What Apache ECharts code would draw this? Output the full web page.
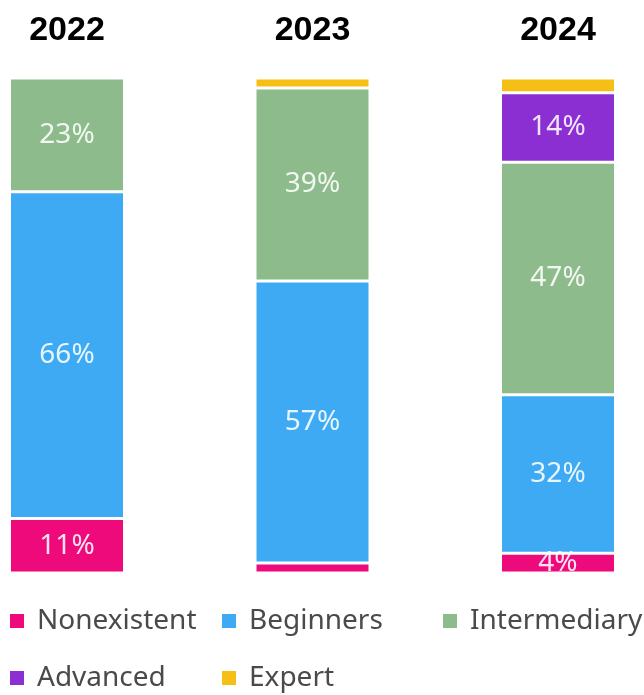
<!DOCTYPE html>
<html>
<head>
<meta charset="utf-8">
<style>html,body{margin:0;padding:0;background:#fff;}#c{width:644px;height:695px;}</style>
<script src="https://cdn.jsdelivr.net/npm/echarts@6/dist/echarts.min.js"></script>
</head>
<body>
<div id="c"></div>
<script>
const years = ['2022', '2023', '2024'];
const nonexistent = [11, 2, 4];
const beginners = [66, 57, 32];
const intermediary = [23, 39, 47];
const advanced = [0, 0, 14];
const expert = [0, 2, 3];

const seriesNames = ['Nonexistent', 'Beginners', 'Intermediary', 'Advanced', 'Expert'];
const seriesData = [nonexistent, beginners, intermediary, advanced, expert];
const colors = ['#EE0A7B', '#3DAAF3', '#8DBB8B', '#8B2FD3', '#F6BF15'];

const chart = echarts.init(document.getElementById('c'));
const legendText = { fontFamily: 'Noto Sans', fontSize: 28, color: '#4a4a4a', lineHeight: 30, padding: [0, 0, 0, 8] };
const legendBase = {
  orient: 'vertical', top: 606, height: 89, padding: 0, icon: 'rect', itemWidth: 14, itemHeight: 14,
  itemGap: 27, textStyle: legendText, selectedMode: false,
  itemStyle: { borderWidth: 0 }
};
chart.setOption({
  animation: false,
  color: colors,
  grid: { left: -55.75, right: -36.75, top: 78, bottom: 122, outerBoundsMode: 'none', containLabel: false },
  xAxis: {
    type: 'category', data: years, position: 'top',
    axisLine: { show: false }, axisTick: { show: false },
    axisLabel: { fontFamily: 'Liberation Sans', fontWeight: 'bold', fontSize: 34, color: '#000', margin: 30 }
  },
  yAxis: { type: 'value', min: 0, max: 100, show: false },
  legend: [
    Object.assign({}, legendBase, { left: 10, data: ['Nonexistent', 'Advanced'] }),
    Object.assign({}, legendBase, { left: 222, data: ['Beginners', 'Expert'] }),
    Object.assign({}, legendBase, { left: 443, data: ['Intermediary'] })
  ],
  series: seriesNames.map((n, i) => ({
    name: n, type: 'bar', stack: 'all', barWidth: 115, data: seriesData[i],
    itemStyle: { borderColor: '#fff', borderWidth: 1.5 },
    label: {
      show: true, position: 'inside', color: 'rgba(255,255,255,0.88)',
      fontFamily: 'Noto Sans', fontSize: 28,
      formatter: p => (p.value >= 4 ? p.value + '%' : '')
    }
  }))
});
</script>
</body>
</html>
